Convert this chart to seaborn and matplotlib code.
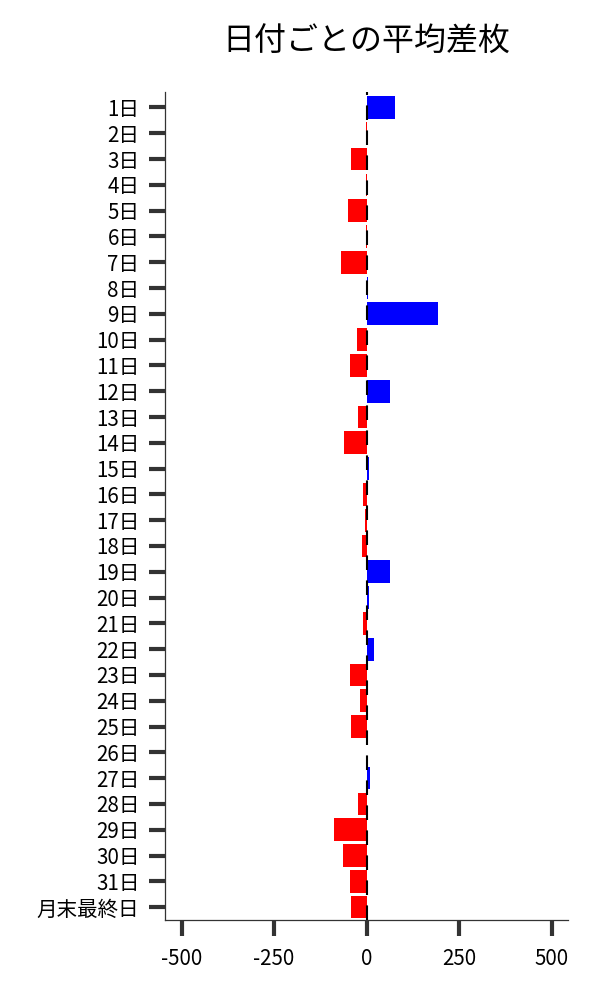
import numpy as np
import pandas as pd
import matplotlib
matplotlib.use("Agg")
import matplotlib.pyplot as plt
import seaborn as sns

days = [f"{i}日" for i in range(1, 32)] + ["月末最終日"]
avg_diff = [76, -2, -43, -2, -51, -2, -70, 4, 194, -27,
            -46, 64, -24, -62, 7, -11, -4, -13, 64, 7,
            -11, 21, -46, -19, -41, 1, 10, -24, -87, -65,
            -46, -41]

df = pd.DataFrame({"day": days, "diff": avg_diff})
df["sign"] = np.where(df["diff"] >= 0, "plus", "minus")

sns.set_theme(style="white")
plt.rcParams['font.family'] = ['Noto Sans CJK JP', 'DejaVu Sans']

fig = plt.figure(figsize=(6, 10), dpi=100)
ax = fig.add_axes([0.275, 0.08, 0.672, 0.828])

sns.barplot(data=df, x="diff", y="day", hue="sign", orient="h",
            palette={"plus": "#0000ff", "minus": "#ff0000"},
            dodge=False, legend=False, width=0.88, saturation=1,
            edgecolor="none", ax=ax)
ax.axvline(0, color="black", linewidth=1.5, dashes=(7, 5), zorder=5)

ax.set_xlim(-545, 545)
ax.set_ylim(31.5, -0.6)
ax.set_xticks([-500, -250, 0, 250, 500])
ax.set_xticklabels(["-500", "-250", "0", "250", "500"])
ax.set_xlabel("")
ax.set_ylabel("")
ax.tick_params(axis="both", which="major", length=11.5, width=3, color="#333333",
               labelsize=14.8, labelcolor="black", direction="out",
               bottom=True, left=True, pad=7)
ax.tick_params(axis="x", pad=9)
for s in ["left", "bottom"]:
    ax.spines[s].set_color("#333333")
    ax.spines[s].set_linewidth(0.9)
sns.despine(ax=ax)
ax.set_title("日付ごとの平均差枚", fontsize=23, pad=30, color="black")

plt.savefig("out.png", dpi=100, facecolor="white")
